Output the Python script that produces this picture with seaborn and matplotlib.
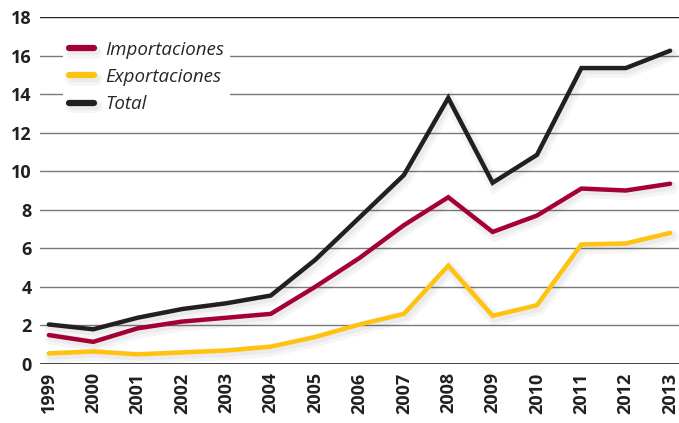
import pandas as pd
import numpy as np
import seaborn as sns
import matplotlib.pyplot as plt
import matplotlib.patheffects as pe

years = list(range(1999, 2014))
importaciones = [1.5, 1.15, 1.85, 2.2, 2.4, 2.6, 4.0, 5.5, 7.2, 8.65, 6.85, 7.7, 9.1, 9.0, 9.35]
exportaciones = [0.55, 0.65, 0.5, 0.6, 0.7, 0.9, 1.4, 2.05, 2.6, 5.1, 2.5, 3.05, 6.2, 6.25, 6.8]
total = [2.05, 1.8, 2.4, 2.85, 3.15, 3.55, 5.4, 7.6, 9.8, 13.8, 9.4, 10.85, 15.35, 15.35, 16.25]
series_names = ['Importaciones', 'Exportaciones', 'Total']
colors = ['#A50034', '#FFC20E', '#231F20']
y_ticks = [0, 2, 4, 6, 8, 10, 12, 14, 16, 18]

df = pd.DataFrame({'Año': years, 'Importaciones': importaciones,
                   'Exportaciones': exportaciones, 'Total': total})
df_long = df.melt(id_vars='Año', var_name='Serie', value_name='Valor')

sns.set_style('white')
plt.rcParams['font.family'] = ['Open Sans', 'DejaVu Sans']

fig = plt.figure(figsize=(6.79, 4.23), dpi=100)
ax = fig.add_axes([40 / 679, 1 - 364 / 423, 639 / 679, (364 - 17) / 423])

# gridlines
for t in y_ticks:
    ax.axhline(t, color='#231F20' if t in (0, 18) else '#7a7a7a',
               lw=1.2 if t == 0 else 1.0, zorder=1)

sns.lineplot(data=df_long, x='Año', y='Valor', hue='Serie', hue_order=series_names,
             palette=colors, linewidth=3.2, ax=ax, zorder=3)

for line in ax.lines[len(y_ticks):]:
    line.set_solid_joinstyle('miter')
    line.set_path_effects([pe.SimpleLineShadow(offset=(1.5, -2.5), shadow_color='#000000',
                                               alpha=0.04, linewidth=9),
                           pe.SimpleLineShadow(offset=(1.5, -2.0), shadow_color='#000000',
                                               alpha=0.04, linewidth=5),
                           pe.Normal()])

ax.set_xlim(1999 - 0.2, 2013 + 0.2)
ax.set_ylim(0, 18)
ax.set_yticks(y_ticks)
ax.set_yticklabels([str(t) for t in y_ticks], fontsize=13, fontweight='bold', color='#231F20')
ax.set_xticks(years)
ax.set_xticklabels([str(y) for y in years], rotation=90, fontsize=13,
                   fontweight='bold', color='#231F20')
ax.tick_params(axis='y', length=0, pad=6)
ax.tick_params(axis='x', length=0, pad=6)
ax.set_xlabel('')
ax.set_ylabel('')
for s in ax.spines.values():
    s.set_visible(False)

leg = ax.legend(loc='upper left', bbox_to_anchor=(0.022, 0.975), frameon=True,
                facecolor='white', edgecolor='none', framealpha=1,
                prop={'style': 'italic', 'size': 13.5}, handlelength=1.35,
                labelspacing=0.5, borderpad=0.3, handletextpad=0.6)
for h in leg.get_lines():
    h.set_linewidth(4.5)
    h.set_solid_capstyle('round')
leg.set_zorder(5)

fig.savefig('out.png', dpi=100)
